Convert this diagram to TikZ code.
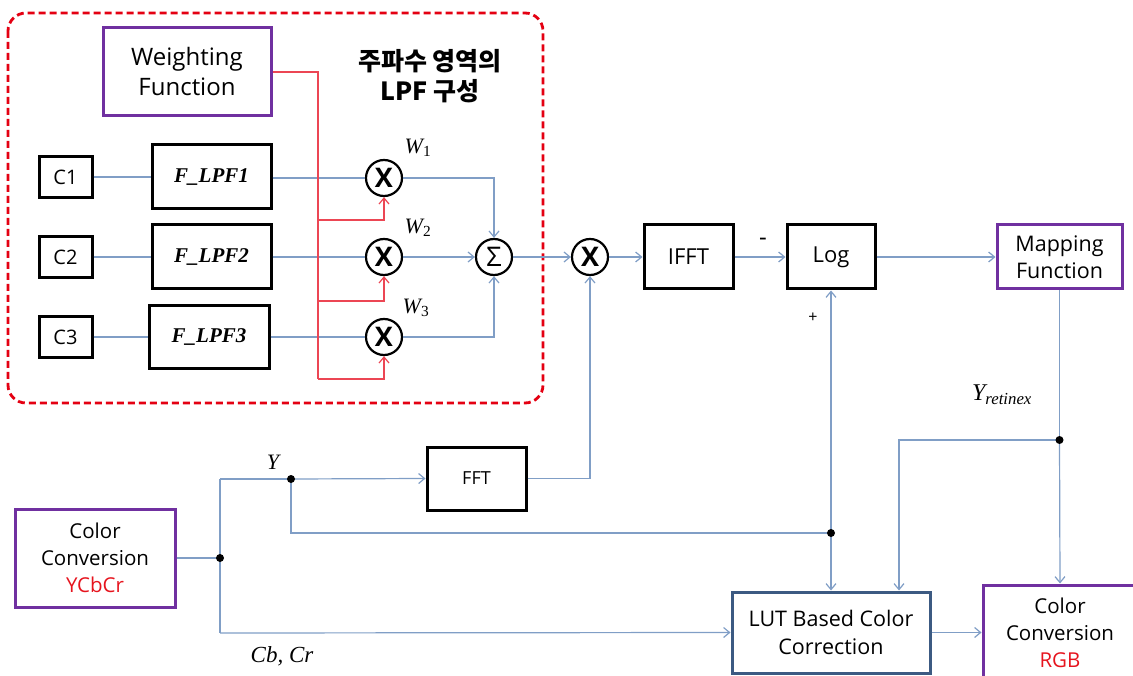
\documentclass[tikz,border=0pt]{standalone}
\usepackage{fontspec}
\setmainfont{Liberation Serif}
\setsansfont{Open Sans}
\newfontfamily\krfont{Noto Sans CJK KR}
\usetikzlibrary{arrows.meta}
\definecolor{lnblue}{RGB}{128,158,198}
\definecolor{lnred}{RGB}{236,70,84}
\definecolor{frred}{RGB}{228,0,18}
\definecolor{purp}{RGB}{112,48,160}
\definecolor{lutblue}{RGB}{60,90,130}
\definecolor{txred}{RGB}{230,20,30}
\begin{document}
\begin{tikzpicture}[x=1pt,y=-1pt,
  blk/.style={draw=black, line width=3pt, inner sep=0pt, align=center,
    font=\sffamily\fontsize{22}{26}\selectfont},
  pbox/.style={blk, draw=purp},
  lpf/.style={blk, font=\bfseries\itshape\fontsize{21}{24}\selectfont},
  mul/.style={circle, draw=black, line width=2.2pt, minimum size=36pt, inner sep=0pt,
    font=\sffamily\bfseries\fontsize{27}{27}\selectfont},
  conn/.style={draw=lnblue, line width=1.2pt},
  rconn/.style={draw=lnred, line width=1.2pt},
  arr/.style={-{Straight Barb[length=6pt,width=10pt,line width=1.2pt]}},
  lbl/.style={inner sep=0pt, font=\itshape\fontsize{22}{24}\selectfont},
  jdot/.style={fill=black}
]
\useasboundingbox (0,0) rectangle (1133,676);
\clip (0,0) rectangle (1133,676);

% frequency-domain LPF frame
\draw[frred, line width=2.8pt, dash pattern=on 7pt off 4pt, rounded corners=18pt]
  (8,13) rectangle (543,403);
\node[align=center, inner sep=0pt, font=\krfont\bfseries\fontsize{25}{30}\selectfont] (title) at (430,76)
  {주파수 영역의\\LPF 구성};

% blocks
\node[pbox, minimum width=168pt, minimum height=88pt, font=\sffamily\fontsize{24}{30}\selectfont] (wf) at (187,72) {Weighting\\Function};
\node[blk, minimum width=53pt, minimum height=41pt, font=\sffamily\fontsize{20}{22}\selectfont] (c1) at (65.5,177) {C1};
\node[blk, minimum width=53pt, minimum height=41pt, font=\sffamily\fontsize{20}{22}\selectfont] (c2) at (65.5,257) {C2};
\node[blk, minimum width=53pt, minimum height=41pt, font=\sffamily\fontsize{20}{22}\selectfont] (c3) at (65.5,337) {C3};
\node[lpf, minimum width=119pt, minimum height=64pt] (f1) at (211.5,177) {F\_LPF1};
\node[lpf, minimum width=119pt, minimum height=64pt] (f2) at (211.5,257) {F\_LPF2};
\node[lpf, minimum width=120pt, minimum height=63pt] (f3) at (209,337) {F\_LPF3};
\node[mul] (m1) at (384,178) {X};
\node[mul] (m2) at (384,257) {X};
\node[mul] (m3) at (384,337) {X};
\node[mul, font=\sffamily\fontsize{27}{27}\selectfont] (sum) at (494,257) {Σ};
\node[mul] (m4) at (590,257) {X};
\node[blk, minimum width=89pt, minimum height=64pt] (ifft) at (688.5,257) {IFFT};
\node[blk, minimum width=88pt, minimum height=64pt] (log) at (831,257) {Log};
\node[pbox, minimum width=125pt, minimum height=64pt, font=\sffamily\fontsize{21.5}{27}\selectfont] (map) at (1059.5,257) {Mapping\\Function};
\node[blk, minimum width=99pt, minimum height=63pt, font=\sffamily\fontsize{18}{20}\selectfont] (fft) at (476.5,478.5) {FFT};
\node[pbox, minimum width=160pt, minimum height=98pt, font=\sffamily\fontsize{20.5}{27}\selectfont] (ycc) at (95,558) {Color\\Conversion\\\textcolor{txred}{YCbCr}};
\node[blk, draw=lutblue, minimum width=198pt, minimum height=81pt, font=\sffamily\fontsize{21.5}{28}\selectfont] (lut) at (831,632.5) {LUT Based Color\\Correction};
\node[pbox, minimum width=154pt, minimum height=96pt, font=\sffamily\fontsize{20.5}{27}\selectfont] (rgb) at (1060,633) {Color\\Conversion\\\textcolor{txred}{RGB}};

% junctions
\coordinate (r0) at (318,72);
\coordinate (r1) at (318,220);
\coordinate (r2) at (318,301);
\coordinate (r3) at (318,379);
\coordinate (jc) at (220,558);
\coordinate (jt) at (220,479);
\coordinate (jb) at (220,633);
\coordinate (jy) at (291,479);
\coordinate (jl) at (831,533);
\coordinate (jr) at (1059.5,440);
\coordinate (jk) at (899,440);

% LPF connections
\draw[conn] (c1.east) -- (c1.east -| f1.west);
\draw[conn] (c2.east) -- (c2.east -| f2.west);
\draw[conn] (c3.east) -- (c3.east -| f3.west);
\draw[conn] (f1.east |- m1.west) -- (m1.west);
\draw[conn] (f2.east) -- (m2.west);
\draw[conn] (f3.east) -- (m3.west);
\draw[conn, arr] (m1.east) -| (sum.north);
\draw[conn, arr] (m2.east) -- (sum.west);
\draw[conn, arr] (m3.east) -| (sum.south);
\draw[rconn] (wf.east) -- (r0) -- (r3);
\draw[rconn, arr] (r1) -| (m1.south);
\draw[rconn, arr] (r2) -| (m2.south);
\draw[rconn, arr] (r3) -| (m3.south);

% main chain
\draw[conn, arr] (sum.east) -- (m4.west);
\draw[conn, arr] (m4.east) -- (ifft.west);
\draw[conn, arr] (ifft.east) -- (log.west);
\draw[conn, arr] (log.east) -- (map.west);
\draw[conn] (map.south) -- (jr);
\draw[conn, arr] (jr) -- (rgb.north);
\draw[conn, arr] (jr) -- (jk) -- (jk |- lut.north);

% input side
\draw[conn] (ycc.east) -- (jc);
\draw[conn] (jt) -- (jb);
\draw[conn] (jt) -- (jy);
\draw[conn, arr] (jy) -- (fft.west);
\draw[conn, arr] (fft.east) -| (m4.south);
\draw[conn] (jy) |- (jl);
\draw[conn, arr] (jl) -- (log.south);
\draw[conn, arr] (jl) -- (lut.north);
\draw[conn, arr] (jb) -- (lut.west);
\draw[conn, arr] (lut.east) -- (rgb.west |- lut.east);

% dots
\fill[jdot] (jc) circle (4pt);
\fill[jdot] (jy) circle (4pt);
\fill[jdot] (jl) circle (4pt);
\fill[jdot] (jr) circle (4pt);

% labels
\node[lbl] (w1) at (418,148) {W\textsubscript{\upshape 1}};
\node[lbl] (w2) at (418,228) {W\textsubscript{\upshape 2}};
\node[lbl] (w3) at (416,308) {W\textsubscript{\upshape 3}};
\node[inner sep=0pt, font=\sffamily\fontsize{24}{24}\selectfont] (minus) at (763,242) {-};
\node[inner sep=0pt, font=\sffamily\fontsize{16}{16}\selectfont] (plus) at (813,318) {+};
\node[lbl] (ylab) at (273,462) {Y};
\node[lbl, font=\itshape\fontsize{23}{24}\selectfont] (cblab) at (282,656) {Cb, Cr};
\node[lbl, font=\itshape\fontsize{24}{26}\selectfont] (yret) at (1002,395) {Y\textsubscript{retinex}};
\end{tikzpicture}
\end{document}
